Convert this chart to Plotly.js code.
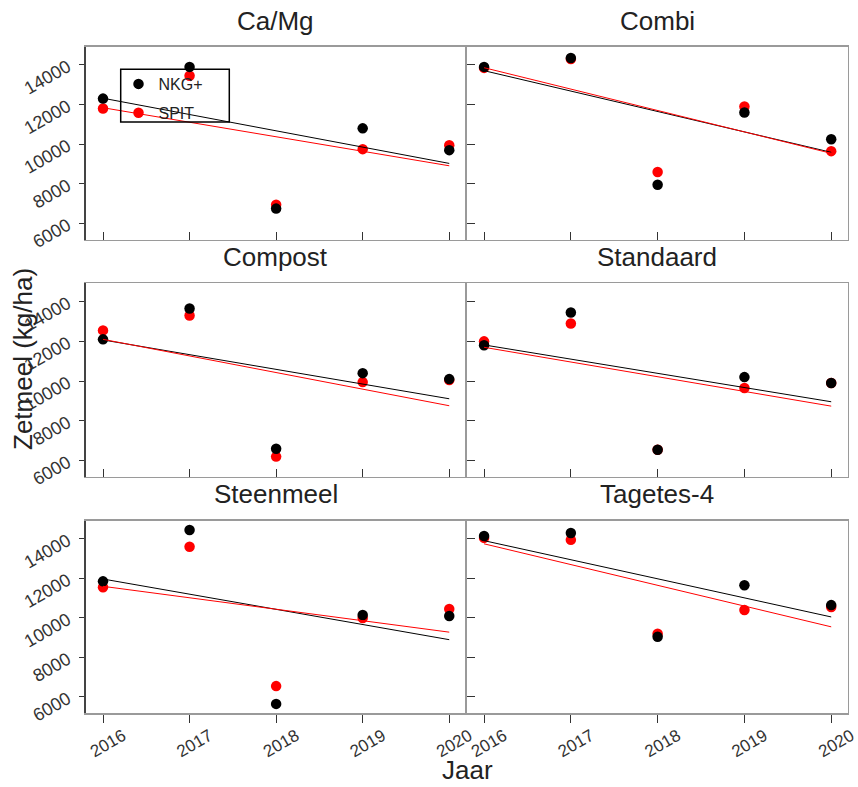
<!DOCTYPE html>
<html>
<head>
<meta charset="utf-8">
<script src="https://cdn.plot.ly/plotly-3.0.1.min.js"></script>
<style>html,body{margin:0;padding:0;background:#fff;}#chart{width:858px;height:787px;}</style>
</head>
<body>
<div id="chart"></div>
<script>
// ---- data ----
const years = [2016, 2017, 2018, 2019, 2020];
const fitYears = [2016, 2020];
const panelTitles = ['Ca/Mg', 'Combi', 'Compost', 'Standaard', 'Steenmeel', 'Tagetes-4'];
const seriesNames = ['NKG+', 'SPIT'];
const yTicks = [6000, 8000, 10000, 12000, 14000];
const yTickText = ['6000', '8000', '10000', '12000', '14000'];
const xTickText = ['2016', '2017', '2018', '2019', '2020'];

const nkg_CaMg      = [12300, 13900, 6750, 10800, 9700];
const spit_CaMg     = [11800, 13450, 6950, 9750, 9950];
const nkg_Combi     = [13900, 14350, 7950, 11600, 10250];
const spit_Combi    = [13850, 14300, 8600, 11900, 9650];
const nkg_Compost   = [12100, 13650, 6600, 10400, 10100];
const spit_Compost  = [12550, 13300, 6200, 9950, 10050];
const nkg_Standaard = [11800, 13450, 6550, 10200, 9900];
const spit_Standaard= [12000, 12900, 6550, 9650, 9900];
const nkg_Steenmeel = [11850, 14450, 5650, 10150, 10100];
const spit_Steenmeel= [11550, 13600, 6550, 10000, 10450];
const nkg_Tagetes   = [14150, 14300, 9050, 11650, 10650];
const spit_Tagetes  = [14050, 13950, 9200, 10400, 10550];

// regression line end values (at 2016 and 2020) per panel
const nkgFit2016  = [12320, 13710, 12070, 11820, 11970, 13910];
const nkgFit2020  = [9030, 9590, 9110, 8960, 8900, 10050];
const spitFit2016 = [11840, 13860, 12100, 11700, 11600, 13750];
const spitFit2020 = [8910, 9540, 8760, 8740, 9280, 9550];

const nkgAll  = [nkg_CaMg, nkg_Combi, nkg_Compost, nkg_Standaard, nkg_Steenmeel, nkg_Tagetes];
const spitAll = [spit_CaMg, spit_Combi, spit_Compost, spit_Standaard, spit_Steenmeel, spit_Tagetes];

// ---- layout geometry ----
const W = 858, H = 787;
const FONT = 'Liberation Sans, Arial, sans-serif';
const colDom = [[85.7 / W, 465.7 / W], [466.7 / W, 847.7 / W]];
const rowPx = [[46.7, 239.5], [283.3, 476.7], [520.7, 713.0]];
const rowDom = rowPx.map(r => [(H - r[1]) / H, (H - r[0]) / H]);
const titleBase = [38, 274, 511];

const traces = [];
const layout = {
  width: W, height: H,
  margin: {l: 0, r: 0, t: 0, b: 0},
  paper_bgcolor: '#fff', plot_bgcolor: '#fff',
  font: {family: FONT, color: '#222'},
  showlegend: true,
  legend: {
    x: 118.5 / W, y: (H - 67) / H, xanchor: 'left', yanchor: 'top',
    bgcolor: 'rgba(0,0,0,0)', borderwidth: 0,
    font: {family: FONT, size: 16, color: '#222'},
    traceorder: 'grouped', tracegroupgap: 5
  },
  shapes: [{
    type: 'rect', xref: 'paper', yref: 'paper',
    x0: 120.7 / W, x1: 229.3 / W, y0: (H - 122) / H, y1: (H - 69.3) / H,
    line: {color: '#000', width: 1.5}, fillcolor: 'rgba(0,0,0,0)'
  }],
  annotations: [],
  hovermode: false
};

for (let i = 0; i < 6; i++) {
  const row = Math.floor(i / 2), col = i % 2;
  const n = i + 1;
  const xa = 'x' + (n === 1 ? '' : n), ya = 'y' + (n === 1 ? '' : n);
  const xk = 'xaxis' + (n === 1 ? '' : n), yk = 'yaxis' + (n === 1 ? '' : n);

  traces.push({
    x: years, y: spitAll[i], xaxis: xa, yaxis: ya, type: 'scatter', mode: 'markers',
    name: seriesNames[1], legendgroup: 'b', legendrank: 2, showlegend: i === 0,
    marker: {color: '#ff0000', size: 10.5}, cliponaxis: false
  });
  traces.push({
    x: years, y: nkgAll[i], xaxis: xa, yaxis: ya, type: 'scatter', mode: 'markers',
    name: seriesNames[0], legendgroup: 'a', legendrank: 1, showlegend: i === 0,
    marker: {color: '#000000', size: 10.5}, cliponaxis: false
  });
  traces.push({
    x: fitYears, y: [nkgFit2016[i], nkgFit2020[i]], xaxis: xa, yaxis: ya, type: 'scatter',
    mode: 'lines', showlegend: false, line: {color: '#000000', width: 1}
  });
  traces.push({
    x: fitYears, y: [spitFit2016[i], spitFit2020[i]], xaxis: xa, yaxis: ya, type: 'scatter',
    mode: 'lines', showlegend: false, line: {color: '#ff0000', width: 1}
  });

  layout[xk] = {
    domain: colDom[col], anchor: ya, range: [2015.80, 2020.19],
    tickmode: 'array', tickvals: years, ticktext: xTickText,
    showticklabels: row === 2, tickangle: -30,
    ticks: row === 2 ? 'outside' : 'inside', ticklen: 8, tickwidth: 1, tickcolor: '#333',
    tickfont: {family: FONT, size: 17, color: '#333'},
    ticklabelshift: 20, ticklabelstandoff: -3,
    showline: true, linecolor: '#9a9a9a', linewidth: 1.5, mirror: true,
    showgrid: false, zeroline: false, fixedrange: true
  };
  layout[yk] = {
    domain: rowDom[row], anchor: xa, range: [5190, 14920],
    tickmode: 'array', tickvals: yTicks, ticktext: yTickText,
    showticklabels: col === 0, tickangle: -30,
    ticks: col === 0 ? 'outside' : 'inside', ticklen: col === 0 ? 5 : 8, tickwidth: 1, tickcolor: '#333',
    tickfont: {family: FONT, size: 18, color: '#333'},
    ticklabelstandoff: 8,
    showline: true, linecolor: col === 0 ? '#444' : '#9a9a9a', linewidth: 1.5, mirror: col === 1,
    showgrid: false, zeroline: false, fixedrange: true
  };

  layout.annotations.push({
    text: panelTitles[i], xref: 'paper', yref: 'paper',
    x: (colDom[col][0] + colDom[col][1]) / 2, y: (H - titleBase[row]) / H,
    xanchor: 'center', yanchor: 'bottom', showarrow: false,
    font: {family: FONT, size: 26, color: '#222'}
  });
}

layout.annotations.push({
  text: 'Jaar', xref: 'paper', yref: 'paper', x: 467 / W, y: 0,
  xanchor: 'center', yanchor: 'bottom', showarrow: false,
  font: {family: FONT, size: 26, color: '#222'}
});
layout.annotations.push({
  text: 'Zetmeel (kg/ha)', xref: 'paper', yref: 'paper', x: 23 / W, y: (H - 359) / H,
  xanchor: 'center', yanchor: 'middle', textangle: -90, showarrow: false,
  font: {family: FONT, size: 26, color: '#222'}
});

Plotly.newPlot('chart', traces, layout, {staticPlot: true, displayModeBar: false});
</script>
</body>
</html>
